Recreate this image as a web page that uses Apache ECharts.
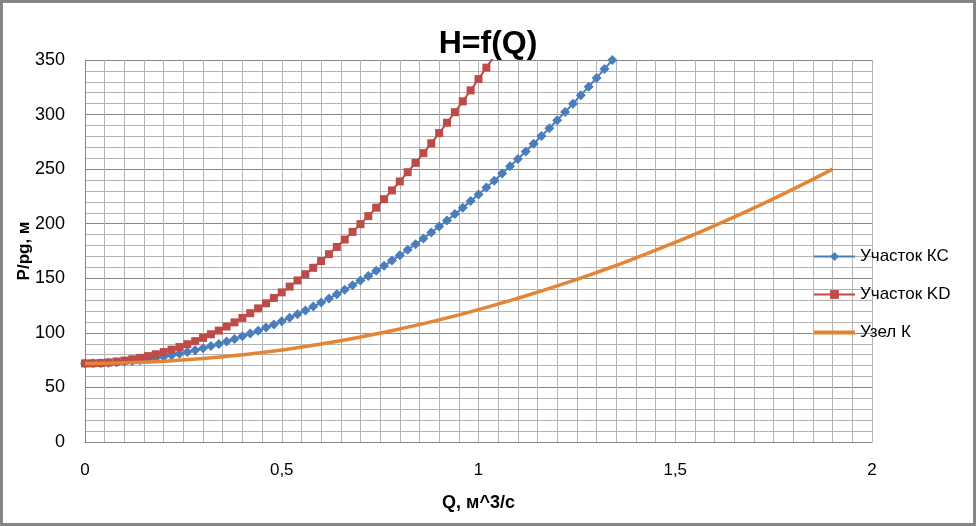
<!DOCTYPE html>
<html>
<head>
<meta charset="utf-8">
<title>H=f(Q)</title>
<style>
  html, body { margin: 0; padding: 0; background: #fff; }
  #main { width: 976px; height: 526px; }
</style>
</head>
<body>
<div id="main"></div>
<script src="https://cdn.jsdelivr.net/npm/echarts@6/dist/echarts.min.js"></script>
<script>
// Участок КС: Q шаг 0,02
var qKC = [0, 0.02, 0.04, 0.06, 0.08, 0.10, 0.12, 0.14, 0.16, 0.18, 0.20, 0.22, 0.24, 0.26, 0.28, 0.30, 0.32, 0.34,
  0.36, 0.38, 0.40, 0.42, 0.44, 0.46, 0.48, 0.50, 0.52, 0.54, 0.56, 0.58, 0.60, 0.62, 0.64, 0.66, 0.68, 0.70,
  0.72, 0.74, 0.76, 0.78, 0.80, 0.82, 0.84, 0.86, 0.88, 0.90, 0.92, 0.94, 0.96, 0.98, 1.00, 1.02, 1.04, 1.06,
  1.08, 1.10, 1.12, 1.14, 1.16, 1.18, 1.20, 1.22, 1.24, 1.26, 1.28, 1.30, 1.32, 1.34];
var hKC = [72, 72.1, 72.2, 72.6, 73.0, 73.5, 74.2, 75.0, 76.0, 77.0, 78.2, 79.5, 80.9, 82.5, 84.1, 85.9, 87.9, 89.9,
  92.1, 94.4, 96.8, 99.3, 102.0, 104.8, 107.7, 110.7, 113.9, 117.1, 120.5, 124.1, 127.7, 131.5, 135.4, 139.4, 143.6, 147.9,
  152.2, 156.8, 161.4, 166.2, 171.1, 176.1, 181.2, 186.5, 191.9, 197.4, 203.0, 208.8, 214.7, 220.7, 226.8, 233.1, 239.4, 245.9,
  252.6, 259.3, 266.2, 273.2, 280.3, 287.5, 294.9, 302.4, 310.0, 317.8, 325.6, 333.6, 341.7, 350.0];

// Участок KD
var qKD = [0, 0.02, 0.04, 0.06, 0.08, 0.10, 0.12, 0.14, 0.16, 0.18, 0.20, 0.22, 0.24, 0.26, 0.28, 0.30, 0.32, 0.34,
  0.36, 0.38, 0.40, 0.42, 0.44, 0.46, 0.48, 0.50, 0.52, 0.54, 0.56, 0.58, 0.60, 0.62, 0.64, 0.66, 0.68, 0.70,
  0.72, 0.74, 0.76, 0.78, 0.80, 0.82, 0.84, 0.86, 0.88, 0.90, 0.92, 0.94, 0.96, 0.98, 1.00, 1.02, 1.04];
var hKD = [72, 72.1, 72.4, 72.9, 73.7, 74.6, 75.8, 77.1, 78.7, 80.4, 82.4, 84.6, 87.0, 89.6, 92.4, 95.4, 98.7, 102.1,
  105.8, 109.6, 113.7, 118.0, 122.4, 127.1, 132.0, 137.1, 142.4, 148.0, 153.7, 159.6, 165.8, 172.1, 178.7, 185.5, 192.5, 199.6,
  207.0, 214.7, 222.5, 230.5, 238.7, 247.2, 255.8, 264.7, 273.7, 283.0, 292.5, 302.2, 312.1, 322.2, 332.5, 343.0, 353.8];

// Узел К
var qK = [0, 0.1, 0.2, 0.3, 0.4, 0.5, 0.6, 0.7, 0.8, 0.9, 1.0, 1.1, 1.2, 1.3, 1.4, 1.5, 1.6, 1.7, 1.8, 1.9];
var hK = [72, 72.5, 74.0, 76.4, 79.9, 84.3, 89.7, 96.2, 103.6, 111.9, 121.3, 131.7, 143.0, 155.3, 168.6, 182.9, 198.2, 214.5, 231.7, 250.0];

var seriesNames = ['Участок КС', 'Участок KD', 'Узел К'];

function pairs(xs, ys) {
  var out = [];
  for (var i = 0; i < xs.length; i++) out.push([xs[i], ys[i]]);
  return out;
}

var font = 'Liberation Sans, Arial, sans-serif';
var myChart = echarts.init(document.getElementById('main'));
var option = {
  animation: false,
  textStyle: { fontFamily: font },
  title: {
    text: 'H=f(Q)',
    left: 'center',
    top: 23,
    textStyle: { fontSize: 32, fontWeight: 'bold', color: '#000', fontFamily: font }
  },
  grid: { left: 85, top: 60, right: 104, bottom: 84, containLabel: false },
  legend: {
    orient: 'vertical',
    left: 813,
    top: 248,
    padding: 0,
    itemWidth: 41,
    itemHeight: 11,
    itemGap: 21,
    textStyle: { fontSize: 17, color: '#000', fontFamily: font },
    data: [
      { name: seriesNames[0] },
      { name: seriesNames[1] },
      { name: seriesNames[2], icon: 'path://M0,0H41V4H0Z' }
    ]
  },
  xAxis: {
    type: 'value',
    min: 0,
    max: 2,
    interval: 0.5,
    name: 'Q, м^3/с',
    nameLocation: 'middle',
    nameGap: 52,
    nameTextStyle: { fontSize: 18, fontWeight: 'bold', color: '#000' },
    axisLine: { show: true, lineStyle: { color: '#868686', width: 1 } },
    axisTick: { show: false },
    axisLabel: {
      fontSize: 17, color: '#000', margin: 20,
      formatter: function (v) { return String(v).replace('.', ','); }
    },
    splitLine: { show: true, lineStyle: { color: '#b4b4b4', width: 1 } },
    minorTick: { show: false, splitNumber: 10 },
    minorSplitLine: { show: true, lineStyle: { color: '#b4b4b4', width: 1 } }
  },
  yAxis: {
    type: 'value',
    min: 0,
    max: 350,
    interval: 50,
    name: 'P/pg, м',
    nameLocation: 'middle',
    nameGap: 52,
    nameMoveOverlap: false,
    nameTextStyle: { fontSize: 17, fontWeight: 'bold', color: '#000' },
    axisLine: { show: true, lineStyle: { color: '#868686', width: 1 } },
    axisTick: { show: false },
    axisLabel: { fontSize: 18, color: '#000', margin: 20 },
    splitLine: { show: true, lineStyle: { color: '#868686', width: 1 } },
    minorTick: { show: false, splitNumber: 5 },
    minorSplitLine: { show: true, lineStyle: { color: '#b4b4b4', width: 1 } }
  },
  series: [
    {
      name: seriesNames[0],
      type: 'line',
      data: pairs(qKC, hKC),
      symbol: 'diamond',
      symbolSize: 10,
      color: '#4a7ebb',
      lineStyle: { width: 2, color: '#4a7ebb' },
      itemStyle: { color: '#4a7ebb' },
      z: 3
    },
    {
      name: seriesNames[1],
      type: 'line',
      data: pairs(qKD, hKD),
      symbol: 'rect',
      symbolSize: 8,
      color: '#be4b48',
      lineStyle: { width: 2, color: '#be4b48' },
      itemStyle: { color: '#be4b48' },
      z: 4
    },
    {
      name: seriesNames[2],
      type: 'line',
      data: pairs(qK, hK),
      smooth: true,
      symbol: 'none',
      color: '#e38535',
      lineStyle: { width: 3.5, color: '#e38535' },
      itemStyle: { color: '#e38535' },
      z: 5
    }
  ],
  graphic: [{
    type: 'rect',
    shape: { x: 1.5, y: 1.5, width: 973, height: 523 },
    style: { fill: 'none', stroke: '#868686', lineWidth: 3 },
    silent: true
  }]
};
myChart.setOption(option);
</script>
</body>
</html>
